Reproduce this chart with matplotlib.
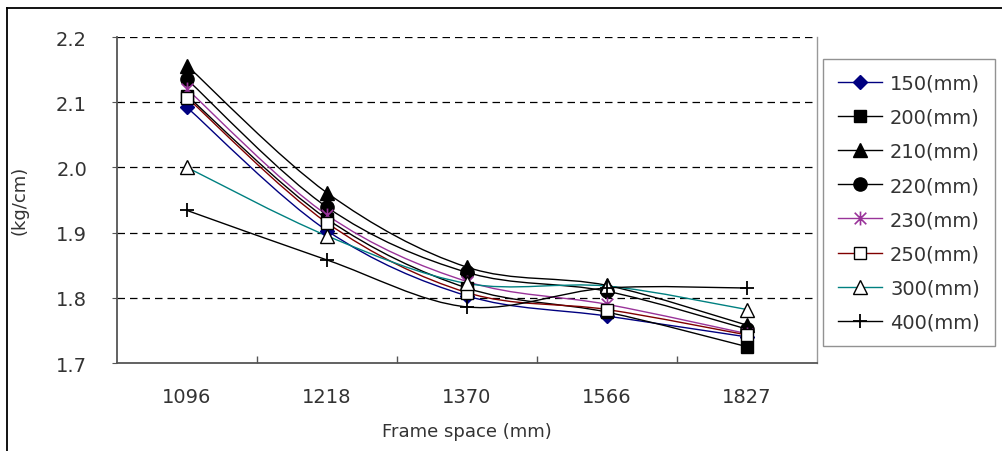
import matplotlib
matplotlib.use("Agg")
import matplotlib.pyplot as plt
from matplotlib.path import Path
from matplotlib.patches import PathPatch
from matplotlib.lines import Line2D

plt.rcParams['font.family'] = ['DejaVu Sans']

frame_space = ["1096", "1218", "1370", "1566", "1827"]
series_names = ["150(mm)", "200(mm)", "210(mm)", "220(mm)",
                "230(mm)", "250(mm)", "300(mm)", "400(mm)"]

s150 = [2.092, 1.903, 1.803, 1.772, 1.740]
s200 = [2.110, 1.921, 1.815, 1.778, 1.725]
s210 = [2.156, 1.961, 1.847, 1.819, 1.758]
s220 = [2.135, 1.939, 1.839, 1.810, 1.752]
s230 = [2.120, 1.927, 1.825, 1.790, 1.745]
s250 = [2.107, 1.915, 1.808, 1.782, 1.743]
s300 = [2.000, 1.895, 1.822, 1.818, 1.782]
s400 = [1.934, 1.858, 1.786, 1.815, 1.815]

# six-armed star marker: an "x" with a vertical stroke
star = Path([(-0.5, -0.5), (0.5, 0.5), (-0.5, 0.5), (0.5, -0.5),
             (0, -0.6), (0, 0.6)],
            [Path.MOVETO, Path.LINETO, Path.MOVETO, Path.LINETO,
             Path.MOVETO, Path.LINETO])

series = [s150, s200, s210, s220, s230, s250, s300, s400]
styles = [
    dict(color="#000080", marker="D", mfc="#000080", mec="#000080", ms=7, mew=1.0),
    dict(color="#000000", marker="s", mfc="#000000", mec="#000000", ms=8.5, mew=1.0),
    dict(color="#000000", marker="^", mfc="#000000", mec="#000000", ms=9.5, mew=1.0),
    dict(color="#000000", marker="o", mfc="#000000", mec="#000000", ms=9.5, mew=1.0),
    dict(color="#993399", marker=star, mfc="#993399", mec="#993399", ms=10, mew=1.2),
    dict(color="#800000", marker="s", mfc="white", mec="#000000", ms=8.5, mew=1.0),
    dict(color="#008080", marker="^", mfc="white", mec="#000000", ms=9.5, mew=1.0),
    dict(color="#000000", marker="+", mfc="#000000", mec="#000000", ms=10, mew=1.3),
]


def smooth_path(xs, ys):
    """Catmull-Rom style cubic Bezier path through the points."""
    n = len(xs)
    verts = [(xs[0], ys[0])]
    codes = [Path.MOVETO]
    for i in range(n - 1):
        x0, y0 = (xs[i - 1], ys[i - 1]) if i > 0 else (xs[i], ys[i])
        x1, y1 = xs[i], ys[i]
        x2, y2 = xs[i + 1], ys[i + 1]
        x3, y3 = (xs[i + 2], ys[i + 2]) if i + 2 < n else (x2, y2)
        c1 = (x1 + (x2 - x0) / 6.0, y1 + (y2 - y0) / 6.0)
        c2 = (x2 - (x3 - x1) / 6.0, y2 - (y3 - y1) / 6.0)
        verts += [c1, c2, (x2, y2)]
        codes += [Path.CURVE4] * 3
    return Path(verts, codes)


fig = plt.figure(figsize=(10.02, 4.52), dpi=100)
ax = fig.add_axes([117 / 1002, 88 / 452, 700 / 1002, 326 / 452])

xs = list(range(len(frame_space)))
handles = []
for vals, st in zip(series, styles):
    patch = PathPatch(smooth_path(xs, vals), facecolor="none",
                      edgecolor=st["color"], lw=1.0, zorder=3)
    ax.add_patch(patch)
    ax.plot(xs, vals, linestyle="none", marker=st["marker"], ms=st["ms"],
            mfc=st["mfc"], mec=st["mec"], mew=st["mew"], zorder=4)
    handles.append(Line2D([], [], color=st["color"], lw=1.0,
                          marker=st["marker"], ms=st["ms"], mfc=st["mfc"],
                          mec=st["mec"], mew=st["mew"]))

ax.set_xlim(-0.5, len(frame_space) - 0.5)
ax.set_ylim(1.7, 2.2)
ax.set_yticks([1.7, 1.8, 1.9, 2.0, 2.1, 2.2])
ax.set_yticklabels(["1.7", "1.8", "1.9", "2.0", "2.1", "2.2"])
for yv in [1.8, 1.9, 2.0, 2.1, 2.2]:
    ax.axhline(yv, color="#000000", lw=0.9, ls=(0, (6, 4)), zorder=1)

ax.set_xticks(xs)
ax.set_xticklabels(frame_space)
ax.set_xticks([i + 0.5 for i in xs[:-1]], minor=True)
ax.tick_params(axis="x", which="major", length=0, pad=17, labelsize=14,
               colors="#333333")
ax.tick_params(axis="x", which="minor", length=5, direction="in",
               color="#555555", width=1.0)
ax.tick_params(axis="y", length=3.6, direction="out", pad=18, labelsize=14,
               color="#555555", labelcolor="#333333")

for side in ("left", "bottom"):
    ax.spines[side].set_color("#555555")
    ax.spines[side].set_linewidth(1.3)
ax.spines["top"].set_visible(False)
ax.spines["right"].set_color("#999999")
ax.spines["right"].set_linewidth(1.0)

ax.set_xlabel("Frame space (mm)", fontsize=13, color="#333333", labelpad=12)
fig.text(20 / 1002, 1 - 200 / 452, "(kg/cm)", rotation=90, fontsize=13,
         color="#333333", ha="center", va="center")

leg = fig.legend(handles, series_names, loc="upper left",
                 bbox_to_anchor=(823 / 1002, 1 - 60 / 452),
                 frameon=True, fancybox=False, fontsize=14,
                 handlelength=2.3, handletextpad=0.4, labelspacing=0.78,
                 borderpad=0.75, borderaxespad=0)
leg.get_frame().set_edgecolor("#777777")
leg.get_frame().set_linewidth(1.0)
for t in leg.get_texts():
    t.set_color("#333333")

# outer frame (top and left edges)
fig.add_artist(Line2D([7 / 1002, 7 / 1002], [0, 1 - 9 / 452],
                      color="black", lw=1.3, transform=fig.transFigure))
fig.add_artist(Line2D([7 / 1002, 1], [1 - 9 / 452, 1 - 9 / 452],
                      color="black", lw=1.3, transform=fig.transFigure))

fig.savefig("out.png", dpi=100)
